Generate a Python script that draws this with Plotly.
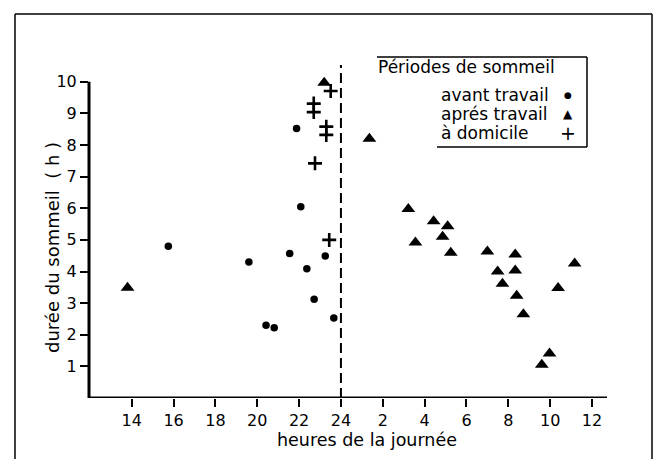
import plotly.graph_objects as go

# ---- data (hour of sleep onset on a continuous 12..36 clock, duration in h)
avant_x = [15.75, 19.6, 20.42, 20.81, 21.55, 21.88, 22.08, 22.37, 22.72, 23.25, 23.66]
avant_y = [4.8, 4.3, 2.3, 2.22, 4.57, 8.52, 6.05, 4.09, 3.12, 4.49, 2.53]

apres_x = [13.8, 23.2, 25.36, 27.22, 27.56, 28.43, 28.86, 29.1, 29.25, 31.0, 31.49,
           31.72, 32.33, 32.33, 32.4, 32.72, 33.6, 33.97, 34.38, 35.17]
apres_y = [3.49, 9.97, 8.2, 5.98, 4.92, 5.59, 5.1, 5.43, 4.59, 4.63, 4.0,
           3.61, 4.54, 4.03, 3.23, 2.65, 1.05, 1.41, 3.48, 4.25]

domicile_x = [22.7, 22.7, 22.76, 23.3, 23.3, 23.44, 23.51]
domicile_y = [9.31, 9.04, 7.42, 8.58, 8.32, 5.0, 9.71]

tick_vals = [14, 16, 18, 20, 22, 24, 26, 28, 30, 32, 34, 36]
tick_text = ["14", "16", "18", "20", "22", "24", "2", "4", "6", "8", "10", "12"]
y_ticks = [1, 2, 3, 4, 5, 6, 7, 8, 9, 10]

legend_title = "Périodes de sommeil"
legend_labels = ["avant travail", "aprés travail", "à domicile"]
legend_symbols = ["●", "▲", "+"]
x_title = "heures de la journée"
y_title = "durée du sommeil\u00a0\u00a0(\u00a0h\u00a0)"

FONT = "DejaVu Sans, sans-serif"
W, H = 654, 459
L, R, T, B = 89, 47, 65, 61
PW, PH = W - L - R, H - T - B


def px(xp):
    return (xp - L) / PW


def py(yp):
    return (H - B - yp) / PH


fig = go.Figure()
fig.add_trace(go.Scatter(x=avant_x, y=avant_y, mode="markers", name=legend_labels[0],
                         marker=dict(symbol="circle", size=7.5, color="black")))
fig.add_trace(go.Scatter(x=apres_x, y=apres_y, mode="markers", name=legend_labels[1],
                         marker=dict(symbol="triangle-up", size=12, color="black")))
fig.add_trace(go.Scatter(x=domicile_x, y=domicile_y, mode="markers", name=legend_labels[2],
                         marker=dict(symbol="cross-thin", size=10, color="black",
                                     line=dict(width=2.6, color="black"))))

thin = dict(color="black", width=1.5)
shapes = [
    dict(type="line", xref="paper", yref="y", x0=0, x1=1, y0=0, y1=0,
         line=dict(color="black", width=3)),
    dict(type="line", xref="paper", yref="y", x0=0, x1=0, y0=0, y1=10,
         line=dict(color="black", width=3)),
    dict(type="line", xref="x", yref="paper", x0=24, x1=24, y0=0, y1=1,
         line=dict(color="black", width=2, dash="10px,5px")),
    dict(type="line", xref="paper", yref="paper", x0=px(15), x1=px(15), y0=py(14), y1=py(470), line=thin),
    dict(type="line", xref="paper", yref="paper", x0=px(15), x1=px(652), y0=py(14), y1=py(14), line=thin),
    dict(type="line", xref="paper", yref="paper", x0=px(652), x1=px(652), y0=py(14), y1=py(470), line=thin),
    dict(type="line", xref="paper", yref="paper", x0=px(377), x1=px(587), y0=py(57), y1=py(57), line=thin),
    dict(type="line", xref="paper", yref="paper", x0=px(587), x1=px(587), y0=py(57), y1=py(147), line=thin),
    dict(type="line", xref="paper", yref="paper", x0=px(437), x1=px(587), y0=py(147), y1=py(147), line=thin),
]

annotations = [
    dict(text=legend_title, xref="paper", yref="paper", x=px(376), y=py(67),
         xanchor="left", yanchor="middle", showarrow=False, font=dict(size=17)),
    dict(text=x_title, xref="paper", yref="paper", x=px(367), y=py(440),
         xanchor="center", yanchor="middle", showarrow=False, font=dict(size=17.5)),
    dict(text=y_title, xref="paper", yref="paper", x=px(53), y=py(248),
         xanchor="center", yanchor="middle", showarrow=False, textangle=-90, font=dict(size=18)),
]
row_y = [95, 114, 133]
sym_size = [9, 12, 19]
for lab, sym, yy, ss in zip(legend_labels, legend_symbols, row_y, sym_size):
    annotations.append(dict(text=lab, xref="paper", yref="paper", x=px(439), y=py(yy),
                            xanchor="left", yanchor="middle", showarrow=False, font=dict(size=17)))
    annotations.append(dict(text=sym, xref="paper", yref="paper", x=px(568), y=py(yy),
                            xanchor="center", yanchor="middle", showarrow=False,
                            font=dict(size=ss)))

fig.update_layout(
    width=W, height=H,
    margin=dict(l=L, r=R, t=T, b=B),
    paper_bgcolor="white", plot_bgcolor="white",
    showlegend=False,
    font=dict(family=FONT, color="black", size=17),
    shapes=shapes, annotations=annotations,
    xaxis=dict(range=[11.958, 36.717], tickvals=tick_vals, ticktext=tick_text,
               ticks="outside", ticklen=8, tickwidth=2, tickcolor="black",
               showgrid=False, zeroline=False, showline=False,
               tickfont=dict(size=16), fixedrange=True),
    yaxis=dict(range=[0, 10.53], tickvals=y_ticks,
               ticks="outside", ticklen=8, tickwidth=2, tickcolor="black",
               showgrid=False, zeroline=False, showline=False,
               tickfont=dict(size=16), fixedrange=True),
)

fig.write_html("out.html")
